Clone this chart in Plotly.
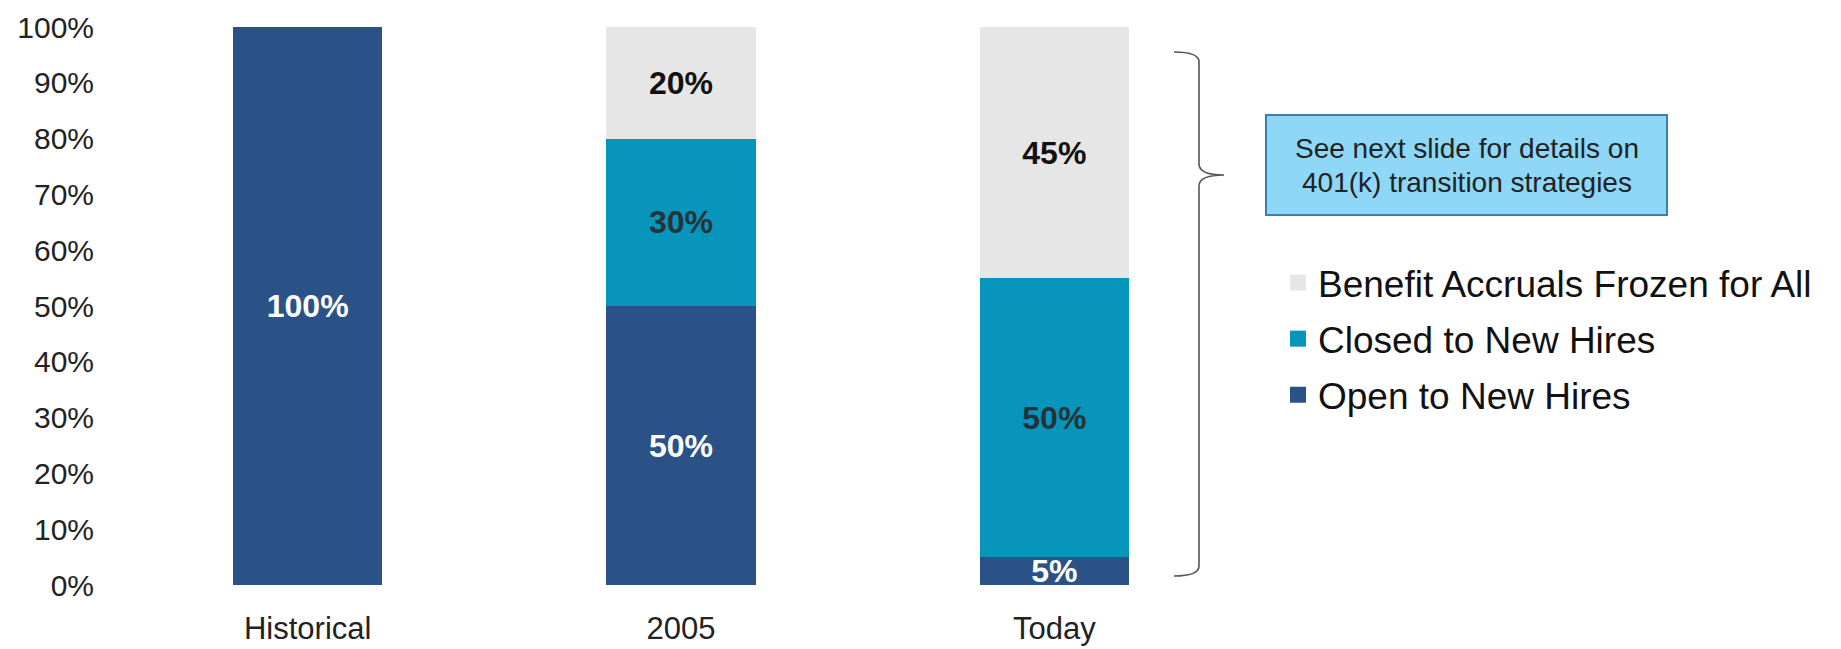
import plotly.graph_objects as go

# ---------------- data ----------------
categories = ["Historical", "2005", "Today"]
open_to_new_hires = [100, 50, 5]
closed_to_new_hires = [0, 30, 50]
frozen_for_all = [0, 20, 45]
series_names = ["Open to New Hires", "Closed to New Hires", "Benefit Accruals Frozen for All"]
y_tick_values = [0, 10, 20, 30, 40, 50, 60, 70, 80, 90, 100]
y_tick_labels = [f"{v}%" for v in y_tick_values]
note_lines = ["See next slide for details on", "401(k) transition strategies"]

# ---------------- style ----------------
W, H = 1841, 649
L, R, T, B = 121, 1241, 27, 585          # plot area in pixels
FONT = "Liberation Sans, Arial, sans-serif"
NAVY = "#2B5287"
TEAL = "#0895BB"
GRAY = "#E6E6E6"


def px(x):
    return (x - L) / (R - L)


def py(y):
    return (B - y) / (B - T)


def labels(vals):
    return [f"{v}%" if v else "" for v in vals]


fig = go.Figure()
series = [
    (open_to_new_hires, series_names[0], NAVY, "white", 3),
    (closed_to_new_hires, series_names[1], TEAL, "#24323a", 2),
    (frozen_for_all, series_names[2], GRAY, "#111111", 1),
]
for i, (vals, name, color, tcolor, rank) in enumerate(series):
    fig.add_trace(go.Bar(
        x=categories, y=vals, name=name,
        marker=dict(color=color, line=dict(width=0)),
        text=labels(vals), textposition="inside", insidetextanchor="middle",
        textangle=0, constraintext="none", cliponaxis=False,
        insidetextfont=dict(family=FONT, size=32, color=tcolor, weight="bold"),
        width=0.4, legendgroup=f"g{i}", showlegend=False, hoverinfo="skip",
    ))
    # legend proxy (square swatch)
    fig.add_trace(go.Scatter(
        x=[None], y=[None], mode="markers", name=name,
        marker=dict(symbol="square", size=16, color=color),
        legendgroup=f"g{i}", legendrank=rank, showlegend=True, hoverinfo="skip",
    ))

# bracket (decoration)
pts = dict(
    x0=px(1174), x1=px(1199), xt=px(1224),
    ytop=py(52), ytop2=py(62), ymid1=py(164), ymid=py(175), ymid2=py(186),
    ybot2=py(566), ybot=py(576),
)
path = (
    f"M{pts['x0']},{pts['ytop']} "
    f"Q{pts['x1']},{pts['ytop']} {pts['x1']},{pts['ytop2']} "
    f"L{pts['x1']},{pts['ymid1']} "
    f"Q{pts['x1']},{pts['ymid']} {pts['xt']},{pts['ymid']} "
    f"Q{pts['x1']},{pts['ymid']} {pts['x1']},{pts['ymid2']} "
    f"L{pts['x1']},{pts['ybot2']} "
    f"Q{pts['x1']},{pts['ybot']} {pts['x0']},{pts['ybot']}"
)
fig.add_shape(type="path", path=path, xref="paper", yref="paper",
              line=dict(color="#555555", width=1.6))

# note box
fig.add_shape(type="rect", xref="paper", yref="paper",
              x0=px(1266), x1=px(1667), y0=py(115), y1=py(215),
              fillcolor="#8ED7F7", line=dict(color="#3A7FB2", width=2))
for line_text, yc in zip(note_lines, [149, 182]):
    fig.add_annotation(
        text=line_text, xref="paper", yref="paper",
        x=px(1466.5), y=py(yc), xanchor="center", yanchor="middle",
        showarrow=False, font=dict(family=FONT, size=28, color="#222222"),
    )

fig.update_layout(
    width=W, height=H,
    margin=dict(l=L, r=W - R, t=T, b=H - B, pad=0, autoexpand=False),
    barmode="stack",
    paper_bgcolor="white", plot_bgcolor="white",
    font=dict(family=FONT, color="#222222"),
    showlegend=True,
    legend=dict(
        x=px(1278), y=py(252), xanchor="left", yanchor="top",
        traceorder="grouped", tracegroupgap=5,
        font=dict(family=FONT, size=37, color="#111111"),
        bgcolor="rgba(0,0,0,0)", borderwidth=0, itemsizing="trace",
    ),
    xaxis=dict(
        showgrid=False, zeroline=False, showline=False, ticks="",
        automargin=False,
        tickfont=dict(family=FONT, size=31, color="#222222"),
        ticklabelstandoff=22,
    ),
    yaxis=dict(
        range=[0, 100], tickvals=y_tick_values, ticktext=y_tick_labels,
        showgrid=False, zeroline=False, showline=False, ticks="",
        automargin=False,
        tickfont=dict(family=FONT, size=30, color="#222222"),
        ticklabelstandoff=26,
    ),
)
fig.write_html("out.html")
